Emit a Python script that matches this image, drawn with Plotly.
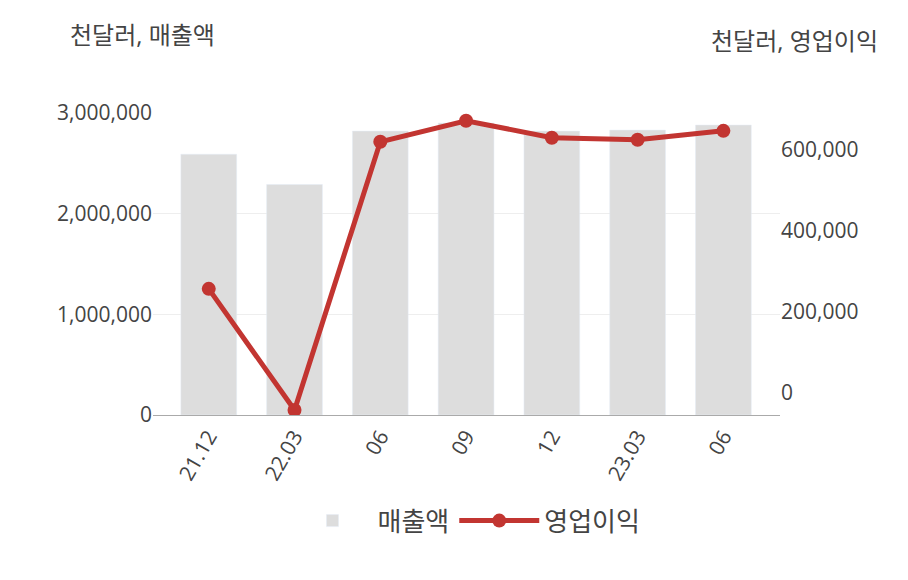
import plotly.graph_objects as go

labels = ["21.12", "22.03", "06", "09", "12", "23.03", "06"]
sales = [2590000, 2290000, 2820000, 2900000, 2820000, 2830000, 2880000]
op = [257000, -42000, 620000, 672000, 630000, 625000, 647000]
x = list(range(len(labels)))

font = "Open Sans, Noto Sans CJK KR"
fig = go.Figure()
fig.add_trace(go.Bar(x=x, y=sales, name="매출액", marker_color="#dddddd", width=0.65))
fig.add_trace(go.Scatter(x=x, y=op, name="영업이익", yaxis="y2", mode="lines+markers",
                         line=dict(color="#c23531", width=5), marker=dict(size=14, color="#c23531")))
fig.update_layout(
    width=908, height=580, plot_bgcolor="white", paper_bgcolor="white",
    margin=dict(l=145, r=136, t=105, b=173),
    font=dict(family=font, size=21, color="#444"),
    xaxis=dict(tickmode="array", tickvals=x, ticktext=labels, tickangle=-60, automargin=False,
               showline=True, linecolor="#aaa", range=[-0.65, 6.66], ticks=""),
    yaxis=dict(range=[0, 3000000], tickvals=[0, 1000000, 2000000, 3000000], tickformat=",",
               gridcolor="#eee", zeroline=False, automargin=False),
    yaxis2=dict(overlaying="y", side="right", range=[-54300, 691000], automargin=False,
                tickvals=[0, 200000, 400000, 600000], tickformat=",", showgrid=False, zeroline=False),
    legend=dict(orientation="h", x=0.5, xanchor="center", y=-0.35, yanchor="middle",
                font=dict(size=26), itemwidth=80),
    showlegend=True,
    annotations=[
        dict(text="천달러, 매출액", xref="paper", yref="paper", x=-0.135, y=1.26, xanchor="left",
             yanchor="middle", showarrow=False, font=dict(size=24)),
        dict(text="천달러, 영업이익", xref="paper", yref="paper", x=1.16, y=1.24, xanchor="right",
             yanchor="middle", showarrow=False, font=dict(size=24)),
    ],
)
fig.write_html("out.html")
